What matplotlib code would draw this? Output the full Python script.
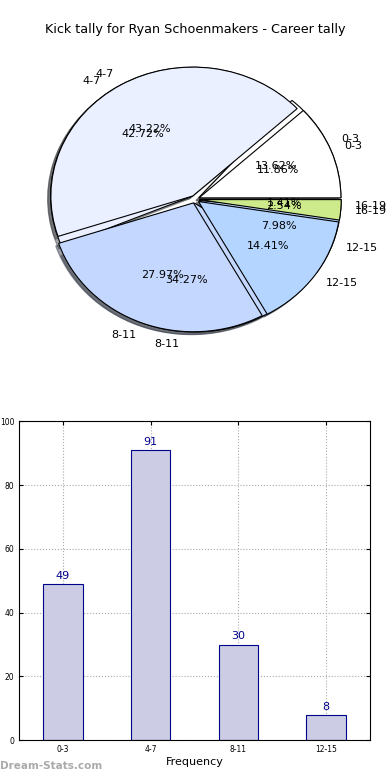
import matplotlib.pyplot as plt

# Dane
pie_labels = ["0-3", "4-7", "8-11", "12-15", "16-19"]
pie_colors = ["#ffffff", "#eaf0ff", "#c4d8ff", "#b4d5ff", "#ceeb8c"]
tally_a = [13.62, 42.72, 34.27, 7.98, 1.41]
tally_b = [11.86, 43.22, 27.97, 14.41, 2.54]

bar_labels = ["0-3", "4-7", "8-11", "12-15"]
bar_values = [49, 91, 30, 8]

title = "Kick tally for Ryan Schoenmakers - Career tally"

fig = plt.figure(figsize=(3.9, 7.8), dpi=100)

# Wykres kołowy (dwa nałożone koła)
ax1 = fig.add_axes([0.045, 0.538, 0.91, 0.413])

for vals in (tally_a, tally_b):
    ax1.pie(vals, labels=pie_labels, colors=pie_colors, explode=[0.03] * 5,
            autopct="%.2f%%", shadow={"ox": -0.015, "oy": -0.015}, startangle=0,
            wedgeprops=dict(edgecolor="black", linewidth=0.8),
            textprops=dict(fontsize=8))

ax1.set_aspect("auto")
ax1.set_xlim(-1.25, 1.25)
ax1.set_ylim(-1.25, 1.25)
fig.text(0.5, 0.962, title, ha="center", va="center", fontsize=9.2)

# Wykres słupkowy
ax2 = fig.add_axes([0.049, 0.051, 0.9, 0.409])
x = range(len(bar_values))
ax2.bar(x, bar_values, width=0.45, color="#ccccE4", edgecolor="#00008b", linewidth=0.8, zorder=2)
for xi, v in zip(x, bar_values):
    ax2.text(xi, v + 1, str(v), ha="center", va="bottom", color="#00008b", fontsize=8)
ax2.set_xlim(-0.5, 3.5)
ax2.set_ylim(0, 100)
ax2.set_xticks(list(x))
ax2.set_xticklabels(bar_labels)
ax2.set_yticks(range(0, 101, 20))
ax2.tick_params(labelsize=5.5, direction="in", top=True, right=True, length=3)
ax2.grid(True, linestyle=":", color="#aaaaaa", linewidth=0.8, zorder=0)
ax2.set_axisbelow(True)
ax2.set_xlabel("Frequency", fontsize=8, labelpad=2)

fig.text(0.0, 0.012, "Dream-Stats.com", color="#aaaaaa", fontsize=7.5, fontweight="bold",
         ha="left", va="bottom")

plt.savefig("out.png", dpi=100)
